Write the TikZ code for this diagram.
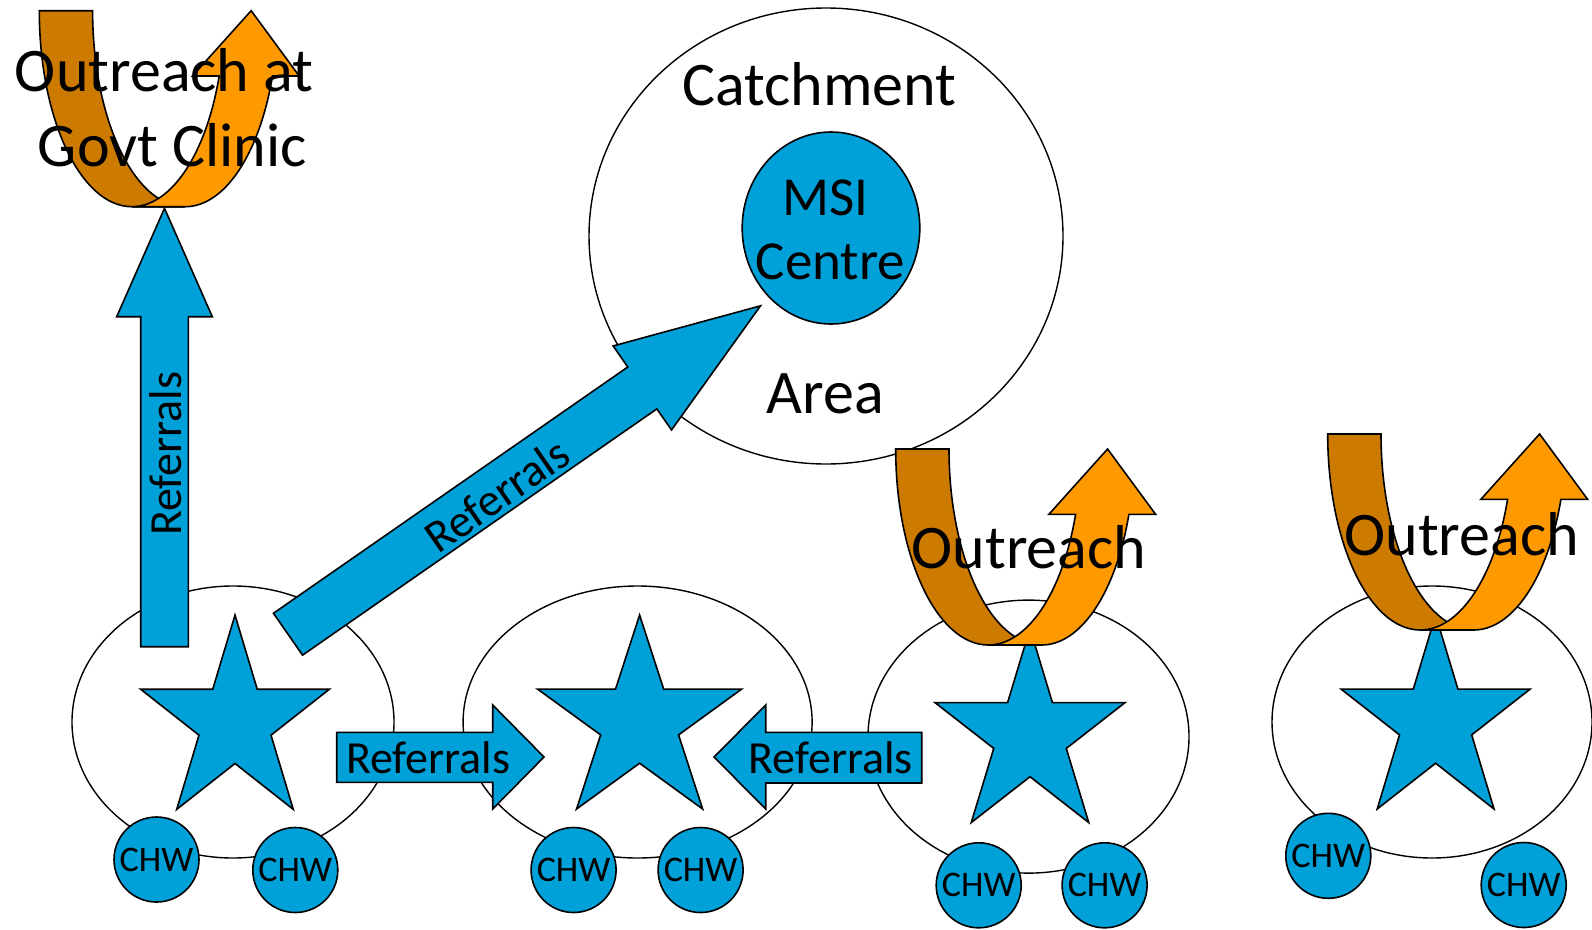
\documentclass[tikz,border=0pt]{standalone}
\usepackage{fontspec}
\setmainfont{Carlito}
\usetikzlibrary{shapes.geometric}
\definecolor{msiblue}{RGB}{0,160,216}
\definecolor{bandlight}{RGB}{255,153,0}
\definecolor{banddark}{RGB}{204,122,0}
\tikzset{
  outline/.style={draw=black, line width=1.6pt, line join=miter},
  ring/.style={ellipse, draw=black, line width=1.4pt, fill=white, inner sep=0pt},
  blockarrow/.style={outline, fill=msiblue},
  chw/.style={circle, draw=black, line width=1.6pt, fill=msiblue, minimum size=85pt,
    inner sep=0pt, font=\fontsize{36}{40}\selectfont},
  bigtext/.style={font=\fontsize{62}{74}\selectfont, inner sep=0pt, anchor=base},
  msitext/.style={font=\fontsize{55}{66}\selectfont, inner sep=0pt, anchor=base},
  midtext/.style={font=\fontsize{46}{55}\selectfont, inner sep=0pt},
  % five-pointed star filling a unit box centred on the pic origin
  pics/starbox/.style={code={
    \path[blockarrow] (0,0.5) -- (0.118,0.118) -- (0.5,0.118) -- (0.191,-0.118)
      -- (0.309,-0.5) -- (0,-0.264) -- (-0.309,-0.5) -- (-0.191,-0.118)
      -- (-0.5,0.118) -- (-0.118,0.118) -- cycle;
  }},
  % curved "turn-up" ribbon arrow, origin at its top-left corner
  pics/uturn/.style={code={
    \path[outline, fill=banddark] (0,0)
      arc[start angle=180, end angle=270, x radius=92.6, y radius=196]
      -- (145.9,-196)
      arc[start angle=270, end angle=180, x radius=92.6, y radius=196]
      -- cycle;
    \path[outline, fill=bandlight] (92.6,-196)
      arc[start angle=270, end angle=340.54, x radius=92.6, y radius=196]
      -- (153.2,-65.3) -- (211.85,0) -- (259.9,-65.3) -- (233.2,-65.3)
      arc[start angle=340.54, end angle=270, x radius=92.6, y radius=196]
      -- cycle;
  }},
}
\begin{document}
\begin{tikzpicture}[x=1pt, y=1pt]
\useasboundingbox (0,0) rectangle (1592,-929);

% catchment area and the centre
\node[ring, minimum width=474pt, minimum height=456pt] (catch) at (826,-236) {};
\node[ring, fill=msiblue, line width=1.6pt, minimum width=177.6pt, minimum height=192pt] (msi) at (831,-228) {};

% community ellipses
\node[ring, minimum width=322pt, minimum height=272pt] (e1) at (233,-722) {};
\node[ring, minimum width=349pt, minimum height=272pt] (e2) at (637.6,-722) {};
\node[ring, minimum width=321pt, minimum height=273pt] (e3) at (1028.5,-736.6) {};
\node[ring, minimum width=320pt, minimum height=272pt] (e4) at (1432,-722) {};

% stars
\pic[xscale=188.6, yscale=194.3] (s1) at (235,-712.2) {starbox};
\pic[xscale=204, yscale=194] (s2) at (639.6,-712) {starbox};
\pic[xscale=190, yscale=194] (s3) at (1030,-725.5) {starbox};
\pic[xscale=189, yscale=194] (s4) at (1435.6,-712) {starbox};

% referral arrows
\path[blockarrow] (140.7,-646.7) -- (140.7,-316.7) -- (116.7,-316.7) -- (164.5,-208.3)
  -- (212.3,-316.7) -- (188.3,-316.7) -- (188.3,-646.7) -- cycle;
\begin{scope}[shift={(288,-634.2)}, rotate=34.8]
  \path[blockarrow] (0,-25.5) -- (431.5,-25.5) -- (431.5,-51.15) -- (575.4,0)
    -- (431.5,51.15) -- (431.5,25.5) -- (0,25.5) -- cycle;
\end{scope}
\path[blockarrow] (336.7,-732.3) -- (492.7,-732.3) -- (492.7,-705) -- (544,-757)
  -- (492.7,-809) -- (492.7,-782.3) -- (336.7,-782.3) -- cycle;
\path[blockarrow] (921.7,-732.3) -- (765.7,-732.3) -- (765.7,-705) -- (714,-757)
  -- (765.7,-809) -- (765.7,-783) -- (921.7,-783) -- cycle;

% outreach ribbons
\pic (u1) at (39.3,-10.7) {uturn};
\pic (u3) at (895.7,-449) {uturn};
\pic (u4) at (1327.7,-434) {uturn};

% community health workers
\node[chw] (c1) at (156.5,-859.5) {CHW};
\node[chw] (c2) at (295.3,-870) {CHW};
\node[chw] (c3) at (573.6,-870) {CHW};
\node[chw] (c4) at (700.6,-870) {CHW};
\node[chw] (c5) at (978.7,-885.3) {CHW};
\node[chw] (c6) at (1104.6,-885.3) {CHW};
\node[chw] (c7) at (1328.3,-855.8) {CHW};
\node[chw] (c8) at (1523.7,-885) {CHW};

% labels
\node[bigtext] (tcatch) at (819.2,-105) {Catchment};
\node[bigtext] (tarea) at (825.5,-413) {Area};
\node[msitext] (tmsi) at (825.5,-215) {MSI};
\node[msitext] (tcentre) at (830.5,-279) {Centre};
\node[bigtext] (tgov1) at (164.2,-91.7) {Outreach at};
\node[bigtext] (tgov2) at (172.5,-166.7) {Govt Clinic};
\node[bigtext] (tout3) at (1029,-568.3) {Outreach};
\node[bigtext] (tout4) at (1461.7,-555) {Outreach};

\node[midtext, rotate=90] (rup) at (165.5,-453.8) {Referrals};
\node[midtext, rotate=34.8] (rdiag) at (496.7,-495) {Referrals};
\node[midtext, anchor=base] (rright) at (428.3,-773.3) {Referrals};
\node[midtext, anchor=base] (rleft) at (830.8,-773.3) {Referrals};
\end{tikzpicture}
\end{document}
